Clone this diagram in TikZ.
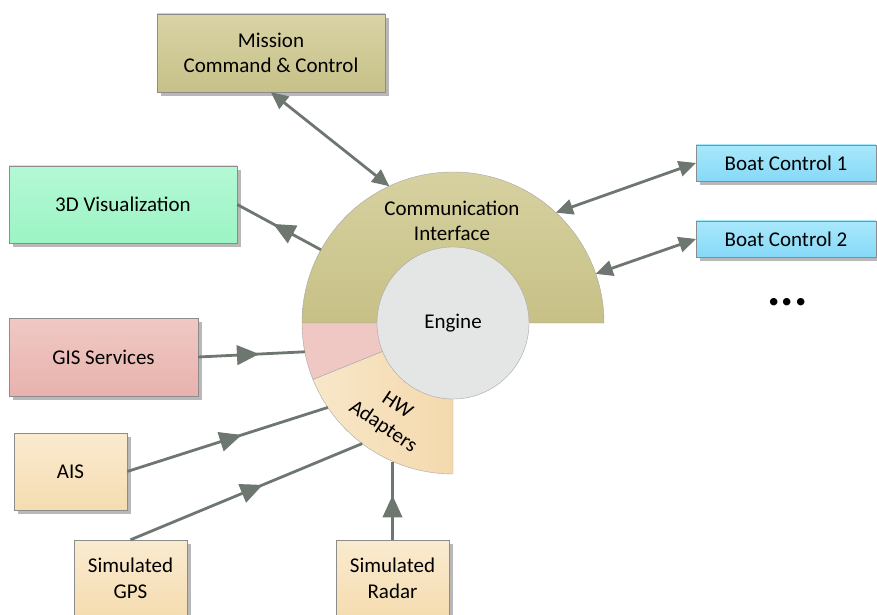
\documentclass[tikz,border=0pt]{standalone}
\usepackage{fontspec}
\setmainfont{Carlito}
\usetikzlibrary{arrows.meta,decorations.markings,shadows}
\definecolor{mis1}{HTML}{D9D4A6}\definecolor{mis2}{HTML}{C7C089}
\definecolor{viz1}{HTML}{B4F8D5}\definecolor{viz2}{HTML}{9CF4C4}
\definecolor{gis1}{HTML}{F0C9C4}\definecolor{gis2}{HTML}{E8B2AD}
\definecolor{sen1}{HTML}{FAEBCF}\definecolor{sen2}{HTML}{F5DCB1}
\definecolor{boat1}{HTML}{A9E8FB}\definecolor{boat2}{HTML}{86D9F8}
\definecolor{ci1}{HTML}{D6D1A0}\definecolor{ci2}{HTML}{C7C086}
\definecolor{gisring}{HTML}{EFC7C3}
\definecolor{hw1}{HTML}{F8E7C9}\definecolor{hw2}{HTML}{F4D9AD}
\definecolor{engc}{HTML}{E4E6E6}\definecolor{linkc}{HTML}{6E776F}
\tikzset{every node/.style={font=\fontsize{21}{25.5}\selectfont},
box/.style={draw=black!45,inner sep=0pt,align=center,drop shadow={shadow xshift=4pt,shadow yshift=-4pt,fill=black!28,opacity=1}},
wide/.style={box,minimum width=228pt,minimum height=78pt},
sensor/.style={box,minimum width=113pt,minimum height=77pt,top color=sen1,bottom color=sen2},
boat/.style={box,minimum width=180pt,minimum height=36pt,top color=boat1,bottom color=boat2},
sector/.style={draw=black!35,thin},
link/.style={line width=2.8pt,color=linkc},
both/.style={link,{Triangle[length=17pt,width=16pt,line width=1pt]}-{Triangle[length=17pt,width=16pt,line width=1pt]}},
mid/.style={link,postaction={decorate},decoration={markings,mark=at position .57 with {\arrow{Triangle[length=22pt,width=20pt,line width=1pt]}}}}}
\begin{document}
\begin{tikzpicture}[x=1pt,y=1pt]
\useasboundingbox (0,0) rectangle (877,614);
\coordinate (ctr) at (453,291);
\node[circle,minimum size=302pt,inner sep=0pt,outer sep=0pt] (ring) at (ctr) {};
\draw[sector,top color=ci1,bottom color=ci2] (ring.east) arc[start angle=0,end angle=180,radius=151] -- cycle;
\draw[sector,fill=gisring] (ring.west) arc[start angle=180,end angle=202,radius=151] -- (ctr) -- cycle;
\draw[sector,left color=hw1,right color=hw2] (ring.202) arc[start angle=202,end angle=270,radius=151] -- (ctr) -- cycle;
\node[circle,draw=black!35,fill=engc,minimum size=152pt,inner sep=0pt] (engine) at (ctr) {Engine};
\node[align=center] (comm) at (452,393) {Communication\\Interface};
\path (ctr) ++(236:113) node[rotate=-34,align=center] (hw) {HW\\Adapters};
\node[wide,top color=mis1,bottom color=mis2] (mission) at (271,561) {Mission\\Command \& Control};
\node[wide,minimum height=77pt,top color=viz1,bottom color=viz2] (viz) at (123,409.5) {3D Visualization};
\node[wide,minimum width=189pt,top color=gis1,bottom color=gis2] (gis) at (103.5,257) {GIS Services};
\node[sensor] (ais) at (70.5,142.5) {AIS};
\node[sensor] (gps) at (130.5,35.5) {Simulated\\GPS};
\node[sensor] (radar) at (392.5,35.5) {Simulated\\Radar};
\node[boat] (bc1) at (786,451) {Boat Control 1};
\node[boat] (bc2) at (786,375) {Boat Control 2};
\node[anchor=base,font=\fontsize{50}{50}\selectfont\bfseries] (more) at (787.5,309) {...};
\draw[both] (mission.south) -- (ring.115);
\draw[mid] (ring.151) -- (viz.east);
\draw[mid] (gis.east) -- (ring.191);
\draw[mid] (ais.east) -- (ring.214);
\draw[mid] (gps.north) -- (ring.233);
\draw[mid] (radar.north) -- (radar.north |- ring.247);
\draw[both] (ring.47) -- (bc1.west);
\draw[both] (ring.19) -- (bc2.west);
\end{tikzpicture}
\end{document}
